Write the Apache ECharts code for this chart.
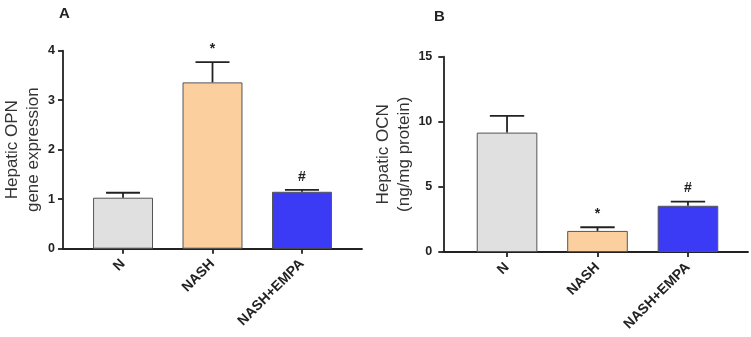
<!DOCTYPE html>
<html>
<head>
<meta charset="utf-8">
<script src="https://cdn.jsdelivr.net/npm/echarts@6/dist/echarts.min.js"></script>
<style>
html,body{margin:0;padding:0;background:#fff;}
#chart{width:751px;height:337px;}
</style>
</head>
<body>
<div id="chart"></div>
<script>
// ---- data ----
var categories = ['N', 'NASH', 'NASH+EMPA'];
var opnMean = [1.03, 3.36, 1.15];
var opnErr = [0.10, 0.41, 0.04];
var opnMarks = ['', '*', '#'];
var ocnMean = [9.17, 1.62, 3.55];
var ocnErr = [1.28, 0.28, 0.32];
var ocnMarks = ['', '*', '#'];
var opnTicks = [0, 4, 1];   // min, max, interval
var ocnTicks = [0, 15, 5];
var barColors = ['#e0e0e0', '#fbd09e', '#3b3bf6'];

var FONT = "'Liberation Sans', Arial, sans-serif";
var chart = echarts.init(document.getElementById('chart'), null, {renderer: 'canvas'});

function errSeries(xIdx, yIdx, mean, err, marks) {
  return {
    type: 'custom', xAxisIndex: xIdx, yAxisIndex: yIdx, z: 5,
    data: mean.map(function (m, i) { return [i, m, err[i]]; }),
    renderItem: function (params, api) {
      var i = api.value(0), m = api.value(1), e = api.value(2);
      var base = api.coord([i, m]);
      var top = api.coord([i, m + e]);
      var band = api.size([1, 0])[0];
      var hw = band * 0.19;
      var mark = marks[params.dataIndex];
      var children = [
        {type: 'line', shape: {x1: base[0], y1: base[1], x2: top[0], y2: top[1]},
         style: {stroke: '#222', lineWidth: 1.8}},
        {type: 'line', shape: {x1: top[0] - hw, y1: top[1], x2: top[0] + hw, y2: top[1]},
         style: {stroke: '#222', lineWidth: 1.8}}
      ];
      if (mark) {
        children.push({type: 'text', x: top[0], y: top[1] - 6,
          style: {text: mark, fill: '#222', font: 'bold 14px ' + FONT, align: 'center', verticalAlign: 'bottom'}});
      }
      return {type: 'group', children: children};
    }
  };
}

function barSeries(xIdx, yIdx, mean) {
  return {
    type: 'bar', xAxisIndex: xIdx, yAxisIndex: yIdx, barWidth: '67%',
    data: mean.map(function (v, i) {
      return {value: v, itemStyle: {color: barColors[i], borderColor: '#555', borderWidth: 1}};
    })
  };
}

var axisLabelStyle = {color: '#222', fontFamily: FONT, fontWeight: 'bold', fontSize: 12.5};

function outerY(grid, ticks, name, labelMargin, gap) {
  return {
    type: 'value', gridIndex: grid, min: ticks[0], max: ticks[1], interval: ticks[2],
    axisLine: {show: true, lineStyle: {color: '#222', width: 1.8}},
    axisTick: {show: true, length: 5, lineStyle: {color: '#222', width: 1.8}},
    axisLabel: Object.assign({margin: labelMargin}, axisLabelStyle),
    splitLine: {show: false},
    name: name, nameLocation: 'middle', nameRotate: 90, nameGap: gap,
    nameTextStyle: {color: '#333', fontFamily: FONT, fontSize: 17, lineHeight: 21}
  };
}
function innerY(grid, ticks) {
  return {type: 'value', gridIndex: grid, min: ticks[0], max: ticks[1], interval: ticks[2], show: false, splitLine: {show: false}};
}
function outerX(grid) {
  return {type: 'value', gridIndex: grid, min: 0, max: 1,
    axisLine: {show: true, onZero: false, lineStyle: {color: '#222', width: 1.8}},
    axisTick: {show: false}, axisLabel: {show: false}, splitLine: {show: false}};
}
function innerX(grid) {
  return {type: 'category', gridIndex: grid, data: categories,
    axisLine: {show: false},
    axisTick: {show: true, alignWithLabel: true, length: 5, lineStyle: {color: '#222', width: 1.8}},
    axisLabel: Object.assign({rotate: 45, margin: 13, interval: 0}, axisLabelStyle, {fontSize: 14})};
}

var option = {
  backgroundColor: '#fff',
  animation: false,
  title: [
    {text: 'A', left: 54, top: 1, textStyle: {fontFamily: FONT, fontWeight: 'bold', fontSize: 15, color: '#222'}},
    {text: 'B', left: 429, top: 4, textStyle: {fontFamily: FONT, fontWeight: 'bold', fontSize: 15, color: '#222'}}
  ],
  grid: [
    {left: 63, right: 389, top: 50.7, bottom: 88.3},
    {left: 78.3, right: 404.3, top: 50.7, bottom: 88.3},
    {left: 443.3, right: 3, top: 56.7, bottom: 85},
    {left: 461.8, right: 17.8, top: 56.7, bottom: 85}
  ],
  xAxis: [outerX(0), innerX(1), outerX(2), innerX(3)],
  yAxis: [
    outerY(0, opnTicks, 'Hepatic OPN\ngene expression', 8, 17.5),
    innerY(1, opnTicks),
    outerY(2, ocnTicks, 'Hepatic OCN\n(ng/mg protein)', 11, 26),
    innerY(3, ocnTicks)
  ],
  series: [
    barSeries(1, 1, opnMean),
    errSeries(1, 1, opnMean, opnErr, opnMarks),
    barSeries(3, 3, ocnMean),
    errSeries(3, 3, ocnMean, ocnErr, ocnMarks)
  ]
};
chart.setOption(option);
</script>
</body>
</html>
